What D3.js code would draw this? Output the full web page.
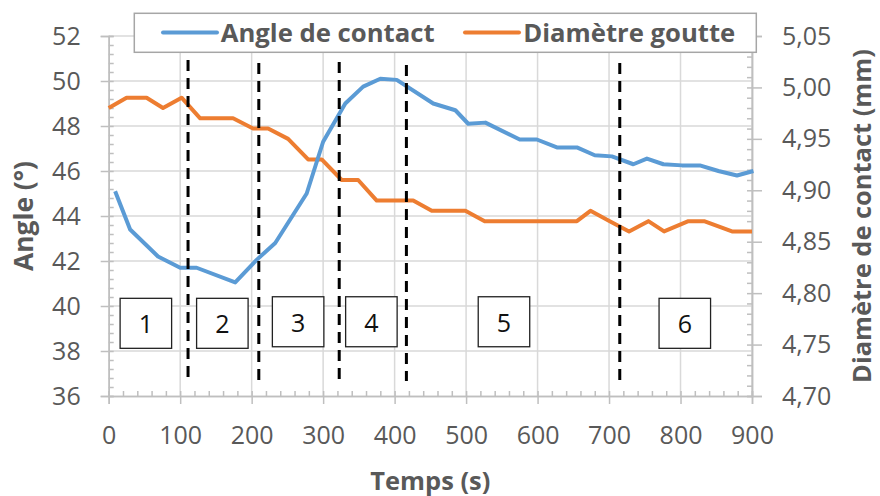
<!DOCTYPE html>
<html><head><meta charset="utf-8">
<script src="https://cdn.jsdelivr.net/npm/d3@7"></script>
<style>
html,body{margin:0;padding:0;background:#fff;}
svg{display:block;font-family:"Open Sans",sans-serif;}
</style></head>
<body>
<svg id="c" width="880" height="496"></svg>
<script>
// ---- data ----
const angleTime = [9, 30, 69, 100, 123, 177, 207, 233, 277, 300, 331, 356, 380, 403, 454, 485, 503, 527, 575, 599, 627, 655, 680, 704, 734, 753, 776, 802, 827, 853, 879, 902];
const angleValue = [45.1, 43.4, 42.2, 41.7, 41.7, 41.05, 42.05, 42.8, 45.0, 47.3, 49.0, 49.75, 50.1, 50.05, 49.0, 48.7, 48.1, 48.15, 47.4, 47.4, 47.05, 47.05, 46.7, 46.65, 46.3, 46.55, 46.3, 46.25, 46.25, 46.0, 45.8, 46.0];
const diamTime = [0, 25, 53, 76, 102, 128, 174, 202, 223, 251, 279, 298, 326, 349, 375, 426, 452, 499, 526, 655, 674, 701, 728, 755, 777, 811, 833, 872, 900];
const diamValue = [4.98, 4.99, 4.99, 4.98, 4.99, 4.97, 4.97, 4.96, 4.96, 4.95, 4.93, 4.93, 4.91, 4.91, 4.89, 4.89, 4.88, 4.88, 4.87, 4.87, 4.88, 4.87, 4.86, 4.87, 4.86, 4.87, 4.87, 4.86, 4.86];
const phaseTime = [111, 210, 322.5, 416.5, 715];      // dashed separators (s)
const phaseTop = [50.93, 50.8, 50.84, 50.71, 50.8];    // upper end (angle units)
const phaseBottom = 36.67;                              // lower end (angle units)
const phaseLabels = ["1", "2", "3", "4", "5", "6"];
const phaseLabelTime = [52, 159, 265, 367.5, 553, 806];
const phaseLabelAngle = [39.23, 39.23, 39.3, 39.3, 39.3, 39.23];
const xTicks = [0, 100, 200, 300, 400, 500, 600, 700, 800, 900];
const yLeftTicks = [36, 38, 40, 42, 44, 46, 48, 50, 52];
const yRightTicks = [4.70, 4.75, 4.80, 4.85, 4.90, 4.95, 5.00, 5.05];
const seriesNames = ["Angle de contact", "Diamètre goutte"];
const axisTitles = {x: "Temps (s)", yl: "Angle (°)", yr: "Diamètre de contact (mm)"};

// ---- layout ----
const L = 108.7, R = 752, T = 36, B = 396;
const blue = "#5B9BD5", orange = "#ED7D31", grid = "#D9D9D9", axisC = "#BFBFBF", txt = "#595959";
const svg = d3.select("#c");
const x = d3.scaleLinear().domain([0, 900]).range([L, R]);
const yL = d3.scaleLinear().domain([36, 52]).range([B, T]);
const yR = d3.scaleLinear().domain([4.70, 5.05]).range([B, T]);

// gridlines
svg.append("g").selectAll("line").data(xTicks.slice(1)).join("line")
  .attr("x1", d => x(d)).attr("x2", d => x(d)).attr("y1", T).attr("y2", B)
  .attr("stroke", grid).attr("stroke-width", 1.5);
svg.append("g").selectAll("line").data(yLeftTicks.slice(1)).join("line")
  .attr("x1", L).attr("x2", R).attr("y1", d => yL(d)).attr("y2", d => yL(d))
  .attr("stroke", grid).attr("stroke-width", 1.5);

// minor ticks (inside)
const minorX = d3.range(0, 901, 20), minorL = d3.range(36, 52.01, 0.4), minorR = d3.range(4.70, 5.0501, 0.01);
function styleAxis(g) {
  g.select(".domain").attr("stroke", axisC).attr("stroke-width", 1.5);
  g.selectAll(".tick line").attr("stroke", axisC).attr("stroke-width", 1.5);
  g.selectAll("text").attr("fill", txt).attr("font-size", 25).attr("font-family", '"Open Sans",sans-serif');
}
svg.append("g").attr("transform", `translate(0,${B})`)
  .call(d3.axisBottom(x).tickValues(minorX).tickSize(-5).tickFormat("")).call(styleAxis);
svg.append("g").attr("transform", `translate(${L},0)`)
  .call(d3.axisLeft(yL).tickValues(minorL).tickSize(-5).tickFormat("")).call(styleAxis);
svg.append("g").attr("transform", `translate(${R},0)`)
  .call(d3.axisRight(yR).tickValues(minorR).tickSize(-5).tickFormat("")).call(styleAxis);

// major axes
svg.append("g").attr("transform", `translate(0,${B})`)
  .call(d3.axisBottom(x).tickValues(xTicks).tickSize(8).tickPadding(22).tickFormat(d3.format("d"))).call(styleAxis);
svg.append("g").attr("transform", `translate(${L},0)`)
  .call(d3.axisLeft(yL).tickValues(yLeftTicks).tickSize(8).tickPadding(20).tickFormat(d3.format("d"))).call(styleAxis);
svg.append("g").attr("transform", `translate(${R},0)`)
  .call(d3.axisRight(yR).tickValues(yRightTicks).tickSize(10).tickPadding(20)
    .tickFormat(d => d3.format(".2f")(d).replace(".", ","))).call(styleAxis);

// phase boxes
const bw = 51.5, bh = 50;
const boxes = svg.append("g").selectAll("g").data(phaseLabels).join("g")
  .attr("transform", (d, i) => `translate(${x(phaseLabelTime[i])},${yL(phaseLabelAngle[i])})`);
boxes.append("rect").attr("x", -bw / 2).attr("y", -bh / 2).attr("width", bw).attr("height", bh)
  .attr("fill", "#fff").attr("stroke", "#222").attr("stroke-width", 1.3);
boxes.append("text").text(d => d).attr("text-anchor", "middle").attr("y", 10)
  .attr("font-size", 25).attr("fill", "#111");

// series lines
const lineA = d3.line().x((d, i) => x(angleTime[i])).y(d => yL(d));
const lineD = d3.line().x((d, i) => x(diamTime[i])).y(d => yR(d));
svg.append("path").datum(diamValue).attr("d", lineD).attr("fill", "none")
  .attr("stroke", orange).attr("stroke-width", 4).attr("stroke-linejoin", "round");
svg.append("path").datum(angleValue).attr("d", lineA).attr("fill", "none")
  .attr("stroke", blue).attr("stroke-width", 4).attr("stroke-linejoin", "round");

// dashed separators
svg.append("g").selectAll("line").data(phaseTime).join("line")
  .attr("x1", d => x(d)).attr("x2", d => x(d))
  .attr("y1", (d, i) => yL(phaseTop[i])).attr("y2", yL(phaseBottom))
  .attr("stroke", "#000").attr("stroke-width", 3).attr("stroke-dasharray", "11,7");

function fit(t, w) {
  const fs = +t.attr("font-size");
  const len = t.node().getComputedTextLength();
  t.attr("font-size", (fs * w / len).toFixed(2));
}

// legend
const lg = svg.append("g");
lg.append("rect").attr("x", 134.3).attr("y", 13.3).attr("width", 622).attr("height", 39)
  .attr("fill", "#fff").attr("stroke", "#A6A6A6").attr("stroke-width", 1.5);
const legendX = [163, 465], legendTextX = [220.7, 523.3], legendW = [214, 212];
seriesNames.forEach((n, i) => {
  lg.append("line").attr("x1", legendX[i]).attr("x2", legendX[i] + 54).attr("y1", 32.5).attr("y2", 32.5)
    .attr("stroke", [blue, orange][i]).attr("stroke-width", 4).attr("stroke-linecap", "round");
  const t = lg.append("text").text(n).attr("x", legendTextX[i]).attr("y", 41.5)
    .attr("font-weight", "bold").attr("font-size", 25).attr("fill", txt);
  fit(t, legendW[i]);
});

// axis titles
const tx = svg.append("text").text(axisTitles.x).attr("x", (L + R) / 2).attr("y", 490)
  .attr("text-anchor", "middle").attr("font-weight", "bold").attr("font-size", 24).attr("fill", txt);
fit(tx, 120);
const tl = svg.append("text").text(axisTitles.yl).attr("transform", `translate(33,${(T + B) / 2}) rotate(-90)`)
  .attr("text-anchor", "middle").attr("font-weight", "bold").attr("font-size", 24).attr("fill", txt);
fit(tl, 110);
const tr = svg.append("text").text(axisTitles.yr).attr("transform", `translate(871,${(T + B) / 2}) rotate(-90)`)
  .attr("text-anchor", "middle").attr("font-weight", "bold").attr("font-size", 24).attr("fill", txt);
fit(tr, 334);
</script>
</body></html>
